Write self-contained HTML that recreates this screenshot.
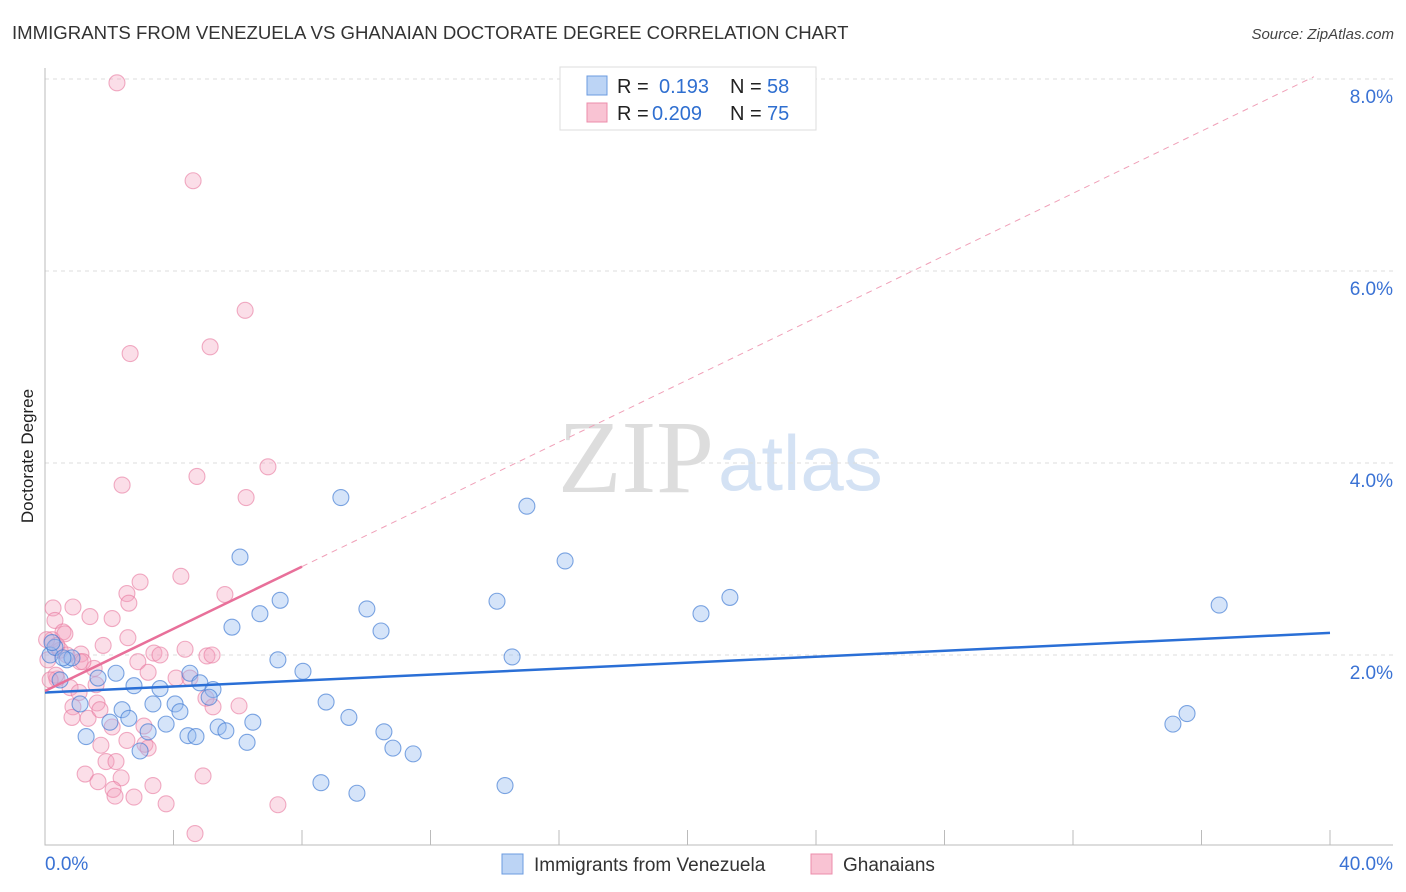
<!DOCTYPE html>
<html><head><meta charset="utf-8"><style>
body{margin:0;background:#fff;font-family:"Liberation Sans",sans-serif;}
svg{display:block}
</style></head><body>
<svg id="chart" width="1406" height="892" viewBox="0 0 1406 892">
<text x="12" y="39" font-size="18.6" fill="#333">IMMIGRANTS FROM VENEZUELA VS GHANAIAN DOCTORATE DEGREE CORRELATION CHART</text>
<text x="1394" y="39" font-size="15" fill="#444" text-anchor="end" font-style="italic">Source: ZipAtlas.com</text>
<text x="714" y="492" font-size="104" font-family="Liberation Serif,serif" fill="#ddd" text-anchor="end">ZIP</text>
<text x="718" y="490" font-size="78" fill="#d4e2f4">atlas</text>
<g id="grid"></g>
<g id="axes"></g>
<g id="pts"></g>
<g id="lines"></g>
<text transform="translate(33,456) rotate(-90)" font-size="17" fill="#222" text-anchor="middle">Doctorate Degree</text>
<g>
<rect x="560" y="67" width="256" height="63" fill="#fff" stroke="#ddd"/>
<rect x="587" y="76" width="20" height="19" fill="#bcd4f5" stroke="#6b9be0"/>
<rect x="587" y="103" width="20" height="19" fill="#f9c3d3" stroke="#ec8cab"/>
<text x="617" y="93" font-size="20" fill="#222">R =</text><text x="659" y="93" font-size="20" fill="#2f6fd0">0.193</text>
<text x="730" y="93" font-size="20" fill="#222">N =</text><text x="767" y="93" font-size="20" fill="#2f6fd0">58</text>
<text x="617" y="120" font-size="20" fill="#222">R =</text><text x="652" y="120" font-size="20" fill="#2f6fd0">0.209</text>
<text x="730" y="120" font-size="20" fill="#222">N =</text><text x="767" y="120" font-size="20" fill="#2f6fd0">75</text>
</g>
<g>
<rect x="502" y="854" width="21" height="20" fill="#bcd4f5" stroke="#6b9be0"/>
<text x="534" y="871" font-size="19" fill="#333">Immigrants from Venezuela</text>
<rect x="811" y="854" width="21" height="20" fill="#f9c3d3" stroke="#ec8cab"/>
<text x="843" y="871" font-size="19" fill="#333">Ghanaians</text>
</g>
</svg>
<script>
const blueX=[9.21,15.00,16.19,6.07,7.32,6.69,5.82,10.02,10.46,14.07,20.42,21.32,36.55,14.54,7.25,8.03,4.51,2.21,1.65,0.47,2.77,3.58,4.82,5.23,5.11,4.05,3.36,4.20,2.40,2.61,1.09,2.02,3.77,5.39,5.63,6.47,4.45,4.70,6.29,1.28,2.96,3.21,8.75,9.46,10.55,10.83,11.46,8.59,9.71,14.32,35.11,35.55,0.16,0.68,0.84,0.31,0.22,0.56];
const blueY=[3.64,3.55,2.98,3.02,2.57,2.43,2.29,2.48,2.25,2.56,2.43,2.60,2.52,1.98,1.95,1.83,1.81,1.81,1.76,1.74,1.68,1.65,1.71,1.64,1.56,1.49,1.49,1.41,1.43,1.34,1.49,1.30,1.28,1.25,1.21,1.30,1.16,1.15,1.09,1.15,1.00,1.20,1.51,1.35,1.20,1.03,0.97,0.67,0.56,0.64,1.28,1.39,2.00,1.95,1.97,2.08,2.13,1.97];
const pinkX=[2.24,4.61,6.23,2.65,5.14,6.94,4.73,2.40,6.26,4.23,2.96,2.55,5.60,2.61,0.25,0.87,1.40,0.31,2.09,0.56,2.58,1.81,0.22,0.05,0.47,0.68,1.12,1.09,1.53,2.89,3.39,3.58,4.36,5.04,5.20,4.08,3.21,4.51,1.59,0.78,0.37,1.06,1.62,0.87,1.34,0.84,2.09,1.71,5.01,5.23,6.04,3.08,1.74,3.11,2.55,3.21,1.90,2.21,1.25,2.37,1.65,2.12,2.77,3.36,2.18,4.92,3.77,7.25,4.67,0.34,0.16,0.09,0.62,0.37,1.18];
const pinkY=[7.96,6.94,5.59,5.14,5.21,3.96,3.86,3.77,3.64,2.82,2.76,2.64,2.63,2.54,2.49,2.50,2.40,2.36,2.38,2.24,2.18,2.10,2.16,2.16,2.05,2.00,2.01,1.93,1.86,1.93,2.02,2.00,2.06,1.99,2.00,1.76,1.82,1.76,1.69,1.66,1.75,1.61,1.50,1.46,1.34,1.35,1.25,1.43,1.55,1.46,1.47,1.26,1.06,1.07,1.11,1.03,0.89,0.89,0.76,0.72,0.68,0.60,0.52,0.64,0.53,0.74,0.45,0.44,0.14,1.79,1.74,1.95,2.22,2.10,1.93];
const yTicks=[2,4,6,8];
const yTickLabels=["2.0%","4.0%","6.0%","8.0%"];
const xTicks=[0,4,8,12,16,20,24,28,32,36,40];
const blueLine=[1.61,2.23];
const pinkLine=[1.625,0.162];
const X=v=>45+v*32.125, Y=v=>847-v*96;
const NS="http://www.w3.org/2000/svg";
function mk(t,a,p){const e=document.createElementNS(NS,t);for(const k in a)e.setAttribute(k,a[k]);p.appendChild(e);return e;}
const grid=document.getElementById('grid'),axes=document.getElementById('axes'),pts=document.getElementById('pts'),lines=document.getElementById('lines');
yTicks.forEach((v,i)=>{
 const l=mk('line',{x1:45,x2:1393,y1:Y(v),y2:Y(v),stroke:'#ddd','stroke-dasharray':'4,4'},grid);
 
 
 const t=mk('text',{x:1393,y:Y(v)+24,'font-size':19,fill:'#3a72d4','text-anchor':'end'},axes);
 t.textContent=yTickLabels[i];
 
 
});
const ax=mk('path',{d:'M45,68 V845 H1393',fill:'none',stroke:'#bbb'},axes);


xTicks.forEach(v=>{
 const l=mk('line',{x1:X(v),x2:X(v),y1:830,y2:845,stroke:'#bbb'},axes);
 
 
});
const xl0=mk('text',{x:45,y:870,'font-size':19,fill:'#3a72d4'},axes);xl0.textContent='0.0%';


const xl1=mk('text',{x:1393,y:870,'font-size':19,fill:'#3a72d4','text-anchor':'end'},axes);xl1.textContent='40.0%';


pinkX.forEach((x,i)=>{
 const c=mk('circle',{cx:X(x),cy:Y(pinkY[i]),r:8,fill:'rgba(244,160,188,0.35)',stroke:'rgba(232,120,158,0.6)','stroke-width':1.1},pts);
 
 
});
blueX.forEach((x,i)=>{
 const c=mk('circle',{cx:X(x),cy:Y(blueY[i]),r:8,fill:'rgba(150,188,240,0.4)',stroke:'rgba(60,120,210,0.65)','stroke-width':1.1},pts);
 
 
});
const bl=mk('line',{x1:X(0),y1:Y(blueLine[0]),x2:X(40),y2:Y(blueLine[1]),stroke:'#2a6fd6','stroke-width':2.5},lines);


const pd=mk('line',{x1:X(8),y1:Y(pinkLine[0]+pinkLine[1]*8),x2:X(39.5),y2:Y(pinkLine[0]+pinkLine[1]*39.5),stroke:'#f0a0b8','stroke-width':1,'stroke-dasharray':'6,5'},lines);


const pl=mk('line',{x1:X(0),y1:Y(pinkLine[0]),x2:X(8),y2:Y(pinkLine[0]+pinkLine[1]*8),stroke:'#e8709a','stroke-width':2.5},lines);


</script>
</body></html>
